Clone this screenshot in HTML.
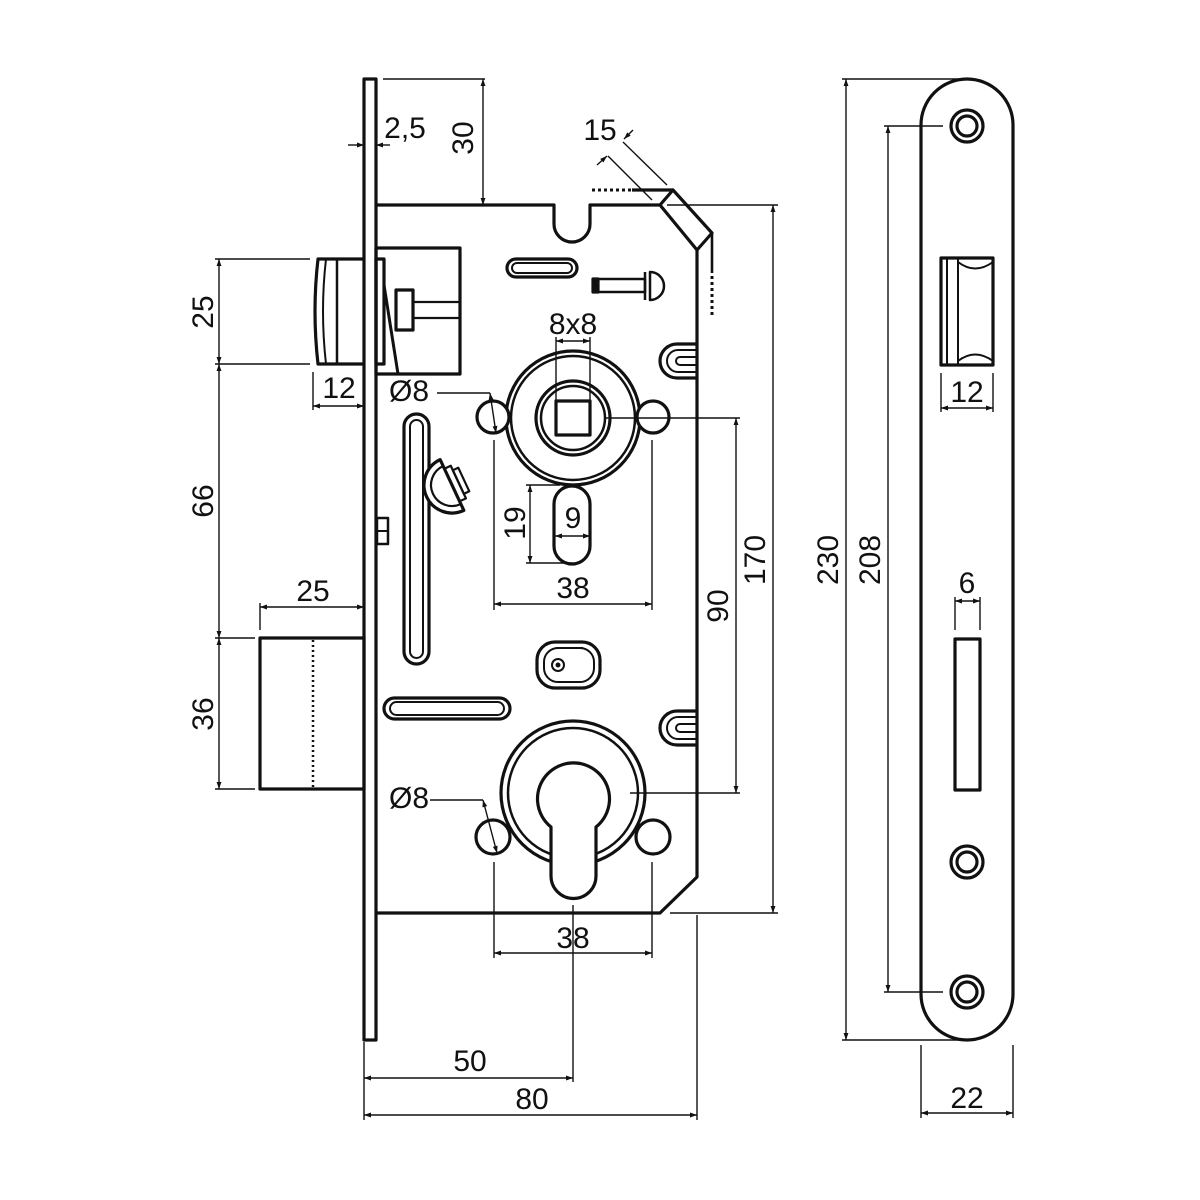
<!DOCTYPE html>
<html><head><meta charset="utf-8"><style>
html,body{margin:0;padding:0;background:#fff}
svg{display:block}
text{font-family:"Liberation Sans",sans-serif;font-size:30px;fill:#111}
</style></head><body>
<svg width="1200" height="1200" viewBox="0 0 1200 1200" xmlns="http://www.w3.org/2000/svg">
<defs>
<marker id="a" viewBox="0 0 10 10" refX="10" refY="5" markerWidth="9" markerHeight="7" orient="auto-start-reverse" markerUnits="userSpaceOnUse"><path d="M0,1.5 L10,5 L0,8.5 z" fill="#111"/></marker>
</defs>
<rect width="1200" height="1200" fill="#fff"/>
<g fill="none" stroke="#111" stroke-width="3.2" stroke-linejoin="round">
<rect x="364" y="79" width="12" height="961"/>
<path d="M376,205 L554,205 L554,224 A18,18 0 0 0 590,224 L590,205 L660,205 L697,250 L697,877 L660,913 L376,913"/>
<path d="M660,205 L673,190 L712,233 L697,250"/>
<line x1="632" y1="190" x2="673" y2="190"/>
<line x1="712" y1="233" x2="712" y2="273" stroke-width="2.6"/>
<rect x="376" y="248" width="84" height="126"/>
<rect x="376" y="259" width="8" height="105"/>
<rect x="396" y="290" width="17" height="40"/>
<line x1="413" y1="302" x2="460" y2="302" stroke-width="2.2"/>
<line x1="413" y1="318" x2="460" y2="318" stroke-width="2.2"/>
<line x1="384" y1="285" x2="398" y2="374" stroke-width="3"/>
<path d="M364,259 L318,259 Q312,311 318,364 L364,364"/>
<path d="M326,259 Q320,311 326,364" stroke-width="2"/>
<line x1="337" y1="259" x2="337" y2="364" stroke-width="2.5"/>
<rect x="260" y="638" width="104" height="151"/>
<line x1="313" y1="640" x2="313" y2="788" stroke-dasharray="2,3" stroke-width="2.5"/>
<rect x="507" y="259" width="70" height="18" rx="9"/>
<rect x="512" y="263" width="60" height="10" rx="5" stroke-width="2"/>
<rect x="593" y="279" width="52" height="13" stroke-width="2.5"/>
<rect x="593" y="279" width="5" height="13" fill="#111"/>
<path d="M650,272 A14,14 0 0 1 650,300 Z" stroke-width="2.5"/>
<line x1="645" y1="272" x2="645" y2="300" stroke-width="2.5"/>
<path d="M697,344 L677,344 A17,17 0 0 0 677,378 L697,378"/>
<path d="M697,350 L678,350 A11,11 0 0 0 678,372 L697,372" stroke-width="2"/>
<path d="M697,357 L680,357 A4,4 0 0 0 680,365 L697,365" stroke-width="2"/>
<path d="M697,711 L677,711 A17,17 0 0 0 677,745 L697,745"/>
<path d="M697,717 L678,717 A11,11 0 0 0 678,739 L697,739" stroke-width="2"/>
<path d="M697,724 L680,724 A4,4 0 0 0 680,732 L697,732" stroke-width="2"/>
<rect x="404" y="414" width="25" height="250" rx="12.5"/>
<rect x="410" y="420" width="13" height="238" rx="6.5" stroke-width="2"/>
<g transform="translate(452,485) rotate(-25)">
<path d="M0,-28 A28,28 0 0 0 0,28 Z" fill="#fff"/>
<path d="M0,-21 A21,21 0 0 0 0,21" stroke-width="2.2"/>
<rect x="0" y="-18" width="7" height="36" stroke-width="2.2"/>
<rect x="7" y="-13" width="6" height="26" stroke-width="2.2"/>
</g>
<rect x="377" y="518" width="11" height="26" stroke-width="2.5"/>
<line x1="377" y1="531" x2="388" y2="531" stroke-width="2"/>
<rect x="384" y="698" width="126" height="21" rx="10.5"/>
<rect x="390" y="702" width="114" height="13" rx="6.5" stroke-width="2"/>
<rect x="537" y="642" width="63" height="46" rx="18"/>
<rect x="544" y="648" width="50" height="34" rx="14" stroke-width="2"/>
<line x1="556" y1="648" x2="583" y2="648" stroke-width="2"/>
<circle cx="558" cy="665" r="6" stroke-width="2"/>
<circle cx="558" cy="665" r="2" fill="#111" stroke-width="1"/>
<circle cx="573" cy="418" r="67"/>
<circle cx="573" cy="418" r="62" stroke-width="2.5"/>
<circle cx="573" cy="418" r="37"/>
<circle cx="573" cy="418" r="32" stroke-width="2.5"/>
<rect x="556" y="401" width="34" height="34"/>
<circle cx="493" cy="417" r="16" fill="#fff"/>
<circle cx="653" cy="417" r="16" fill="#fff"/>
<rect x="554" y="486" width="36" height="78" rx="18"/>
<circle cx="573" cy="793" r="72"/>
<circle cx="573" cy="793" r="65" stroke-width="2.5"/>
<path d="M551,827 A36,36 0 1 1 596,827 L596,876 A22.5,22.5 0 0 1 551,876 Z" fill="#fff"/>
<circle cx="493" cy="837" r="17" fill="#fff"/>
<circle cx="653" cy="837" r="17" fill="#fff"/>
<rect x="921" y="79" width="92" height="961" rx="46"/>
<circle cx="967" cy="126" r="16"/><circle cx="967" cy="126" r="10"/>
<circle cx="967" cy="862" r="16"/><circle cx="967" cy="862" r="10"/>
<circle cx="967" cy="992" r="16"/><circle cx="967" cy="992" r="10"/>
<rect x="941" y="258" width="52" height="107"/>
<line x1="947" y1="258" x2="947" y2="365" stroke-width="2"/>
<path d="M958,258 L958,365 M958,262 Q975,275 993,262 M958,361 Q975,348 993,361" stroke-width="2"/>
<rect x="955" y="639" width="25" height="151"/>
</g>
<g fill="none" stroke="#111" stroke-dasharray="3,3">
<line x1="592" y1="190" x2="632" y2="190" stroke-width="3"/>
<line x1="712" y1="276" x2="712" y2="318" stroke-width="3"/>
</g>
<g fill="none" stroke="#111" stroke-width="1.4">
<line x1="348" y1="145" x2="364" y2="145" marker-end="url(#a)"/>
<line x1="390" y1="145" x2="376" y2="145" marker-end="url(#a)"/>
<line x1="383" y1="79" x2="485" y2="79"/>
<line x1="483" y1="79" x2="483" y2="205" marker-start="url(#a)" marker-end="url(#a)"/>
<line x1="623" y1="142" x2="667" y2="185"/>
<line x1="608" y1="156" x2="652" y2="200"/>
<line x1="633" y1="130" x2="624" y2="139" marker-end="url(#a)"/>
<line x1="597" y1="165" x2="607" y2="156" marker-end="url(#a)"/>
<line x1="667" y1="205" x2="778" y2="205"/>
<line x1="670" y1="913" x2="778" y2="913"/>
<line x1="773" y1="205" x2="773" y2="913" marker-start="url(#a)" marker-end="url(#a)"/>
<line x1="605" y1="418" x2="740" y2="418"/>
<line x1="630" y1="793" x2="740" y2="793"/>
<line x1="736" y1="418" x2="736" y2="793" marker-start="url(#a)" marker-end="url(#a)"/>
<line x1="215" y1="259" x2="310" y2="259"/>
<line x1="215" y1="364" x2="310" y2="364"/>
<line x1="215" y1="638" x2="255" y2="638"/>
<line x1="215" y1="789" x2="255" y2="789"/>
<line x1="219" y1="259" x2="219" y2="364" marker-start="url(#a)" marker-end="url(#a)"/>
<line x1="219" y1="364" x2="219" y2="638" marker-start="url(#a)" marker-end="url(#a)"/>
<line x1="219" y1="638" x2="219" y2="789" marker-start="url(#a)" marker-end="url(#a)"/>
<line x1="313" y1="372" x2="313" y2="410"/>
<line x1="313" y1="406" x2="364" y2="406" marker-start="url(#a)" marker-end="url(#a)"/>
<line x1="260" y1="603" x2="260" y2="630"/>
<line x1="260" y1="607" x2="364" y2="607" marker-start="url(#a)" marker-end="url(#a)"/>
<line x1="556" y1="337" x2="556" y2="400"/>
<line x1="590" y1="337" x2="590" y2="400"/>
<line x1="556" y1="341" x2="590" y2="341" marker-start="url(#a)" marker-end="url(#a)"/>
<line x1="437" y1="393" x2="490" y2="393"/>
<line x1="490" y1="393" x2="496" y2="433" marker-start="url(#a)" marker-end="url(#a)"/>
<line x1="430" y1="800" x2="483" y2="800"/>
<line x1="483" y1="800" x2="497" y2="853" marker-start="url(#a)" marker-end="url(#a)"/>
<line x1="526" y1="485" x2="560" y2="485"/>
<line x1="526" y1="563" x2="572" y2="563"/>
<line x1="530" y1="485" x2="530" y2="563" marker-start="url(#a)" marker-end="url(#a)"/>
<line x1="555" y1="536" x2="590" y2="536" marker-start="url(#a)" marker-end="url(#a)"/>
<line x1="494" y1="440" x2="494" y2="610"/>
<line x1="652" y1="440" x2="652" y2="610"/>
<line x1="494" y1="604" x2="652" y2="604" marker-start="url(#a)" marker-end="url(#a)"/>
<line x1="494" y1="862" x2="494" y2="958"/>
<line x1="652" y1="862" x2="652" y2="958"/>
<line x1="494" y1="953" x2="652" y2="953" marker-start="url(#a)" marker-end="url(#a)"/>
<line x1="364" y1="1042" x2="364" y2="1120"/>
<line x1="573" y1="905" x2="573" y2="1082"/>
<line x1="697" y1="915" x2="697" y2="1120"/>
<line x1="364" y1="1078" x2="573" y2="1078" marker-start="url(#a)" marker-end="url(#a)"/>
<line x1="364" y1="1115" x2="697" y2="1115" marker-start="url(#a)" marker-end="url(#a)"/>
<line x1="842" y1="79" x2="965" y2="79"/>
<line x1="842" y1="1040" x2="965" y2="1040"/>
<line x1="846" y1="79" x2="846" y2="1040" marker-start="url(#a)" marker-end="url(#a)"/>
<line x1="884" y1="126" x2="943" y2="126"/>
<line x1="884" y1="992" x2="943" y2="992"/>
<line x1="888" y1="126" x2="888" y2="992" marker-start="url(#a)" marker-end="url(#a)"/>
<line x1="941" y1="373" x2="941" y2="412"/>
<line x1="993" y1="373" x2="993" y2="412"/>
<line x1="941" y1="408" x2="993" y2="408" marker-start="url(#a)" marker-end="url(#a)"/>
<line x1="955" y1="597" x2="955" y2="630"/>
<line x1="980" y1="597" x2="980" y2="630"/>
<line x1="955" y1="601" x2="980" y2="601" marker-start="url(#a)" marker-end="url(#a)"/>
<line x1="921" y1="1045" x2="921" y2="1118"/>
<line x1="1013" y1="1045" x2="1013" y2="1118"/>
<line x1="921" y1="1113" x2="1013" y2="1113" marker-start="url(#a)" marker-end="url(#a)"/>
</g>
<text x="405" y="138" text-anchor="middle">2,5</text>
<text transform="translate(473,138) rotate(-90)" text-anchor="middle">30</text>
<text x="600" y="140" text-anchor="middle">15</text>
<text transform="translate(213,312) rotate(-90)" text-anchor="middle">25</text>
<text transform="translate(213,501) rotate(-90)" text-anchor="middle">66</text>
<text transform="translate(213,714) rotate(-90)" text-anchor="middle">36</text>
<text x="339" y="398" text-anchor="middle">12</text>
<text x="313" y="601" text-anchor="middle">25</text>
<text x="409" y="401" text-anchor="middle">Ø8</text>
<text x="409" y="808" text-anchor="middle">Ø8</text>
<text x="573" y="334" text-anchor="middle">8x8</text>
<text transform="translate(525,523) rotate(-90)" text-anchor="middle">19</text>
<text x="573" y="528" text-anchor="middle">9</text>
<text x="573" y="598" text-anchor="middle">38</text>
<text x="573" y="948" text-anchor="middle">38</text>
<text transform="translate(728,606) rotate(-90)" text-anchor="middle">90</text>
<text transform="translate(765,560) rotate(-90)" text-anchor="middle">170</text>
<text x="470" y="1071" text-anchor="middle">50</text>
<text x="532" y="1109" text-anchor="middle">80</text>
<text transform="translate(838,560) rotate(-90)" text-anchor="middle">230</text>
<text transform="translate(880,560) rotate(-90)" text-anchor="middle">208</text>
<text x="967" y="402" text-anchor="middle">12</text>
<text x="967" y="593" text-anchor="middle">6</text>
<text x="967" y="1108" text-anchor="middle">22</text>
</svg>
</body></html>
